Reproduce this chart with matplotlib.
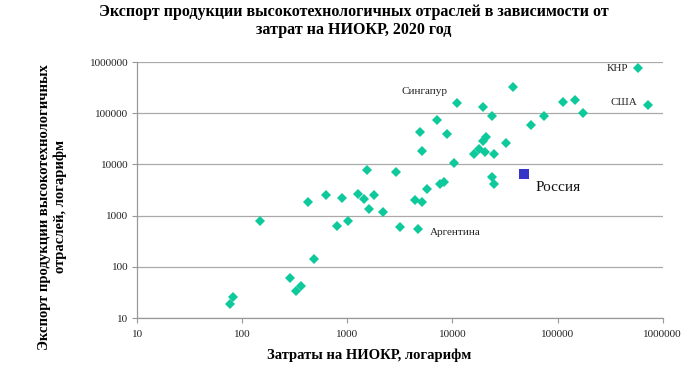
import matplotlib
matplotlib.use("Agg")
import matplotlib.pyplot as plt
from matplotlib.ticker import FixedLocator, FixedFormatter, NullLocator

plt.rcParams['font.family'] = ['Liberation Serif', 'DejaVu Serif']

# R&D spending (x) vs high-tech exports (y)
rd_spend = [76, 82, 147, 285, 324, 360, 482, 420, 627, 792, 891, 1023, 1265, 1443,
            1540, 1600, 1783, 2203, 2890, 3177, 4446, 4680, 4860, 5180, 5700, 7640,
            8220, 5180, 7150, 8850, 10380, 11020, 15860, 17900, 19500, 20700, 20200,
            19700, 24000, 24000, 25100, 25100, 32400, 37800, 56200, 74100, 113000,
            145000, 175000, 587000, 731000]
hitech_exports = [19, 26, 797, 62, 34, 42, 144, 1820, 2490, 627, 2180, 800, 2640, 2140,
                  7890, 1365, 2560, 1176, 7000, 590, 2017, 547, 42900, 18500, 3350, 4140,
                  4470, 1820, 72600, 39800, 10500, 160000, 16000, 20300, 29000, 34800, 17700,
                  130000, 88000, 5680, 15700, 4140, 25800, 330000, 58000, 87000, 163000,
                  181000, 102000, 763000, 143000]
russia_x = [48200]
russia_y = [6500]

labels = ["КНР", "США", "Сингапур", "Аргентина"]
label_pos = [(470000, 760000), (574000, 163000), (8900, 270000), (6140, 479)]
label_ha = ["right", "right", "right", "left"]

fig = plt.figure(figsize=(7, 3.76), dpi=100)
ax = fig.add_axes([0.196, 0.154, 0.7507, 0.681])

ax.set_xscale('log')
ax.set_yscale('log')
ax.set_xlim(10, 1e6)
ax.set_ylim(10, 1e6)

ax.plot(rd_spend, hitech_exports, linestyle='none', marker='D', markersize=5,
        color='#0DC99B', markeredgewidth=0, zorder=3)
ax.plot(russia_x, russia_y, linestyle='none', marker='s', markersize=6.5,
        color='#3535C8', markeredgewidth=0, zorder=3)

for t, (lx, ly), ha in zip(labels, label_pos, label_ha):
    ax.text(lx, ly, t, ha=ha, va='center', fontsize=8, color='#222222')
ax.text(61400, 3570, "Россия", ha='left', va='center', fontsize=11, color='#111111')

ticks = [10, 100, 1000, 10000, 100000, 1000000]
tick_labels = ["10", "100", "1000", "10000", "100000", "1000000"]
ax.xaxis.set_major_locator(FixedLocator(ticks))
ax.xaxis.set_major_formatter(FixedFormatter(tick_labels))
ax.yaxis.set_major_locator(FixedLocator(ticks))
ax.yaxis.set_major_formatter(FixedFormatter(tick_labels))
ax.xaxis.set_minor_locator(NullLocator())
ax.yaxis.set_minor_locator(NullLocator())
ax.tick_params(axis='both', labelsize=8, labelcolor='#222222', color='#999999',
               length=3.5, width=0.8, direction='out')
ax.tick_params(axis='x', pad=5)
ax.tick_params(axis='y', pad=3)

ax.grid(axis='y', color='#AAAAAA', linewidth=0.9)
ax.set_axisbelow(True)
for s in ['top', 'right']:
    ax.spines[s].set_visible(False)
for s in ['left', 'bottom']:
    ax.spines[s].set_color('#999999')
    ax.spines[s].set_linewidth(0.9)

fig.text(0.505, 0.99, "Экспорт продукции высокотехнологичных отраслей в зависимости от\nзатрат на НИОКР, 2020 год",
         ha='center', va='top', fontsize=11.5, fontweight='bold', linespacing=1.15)
fig.text(0.528, 0.055, "Затраты на НИОКР, логарифм", ha='center', va='center',
         fontsize=10.5, fontweight='bold')
fig.text(0.075, 0.45, "Экспорт продукции высокотехнологичных\nотраслей, логарифм", ha='center', va='center',
         rotation=90, fontsize=10.5, fontweight='bold', linespacing=1.3)

fig.savefig("out.png", dpi=100)
